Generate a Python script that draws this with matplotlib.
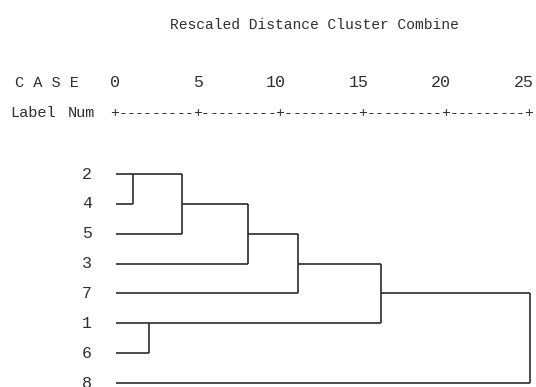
import math
import matplotlib
matplotlib.use("Agg")
import matplotlib.pyplot as plt

# cases in the order they are listed down the dendrogram
case_order = [2, 4, 5, 3, 7, 1, 6, 8]

# agglomeration schedule: cluster joined, cluster absorbed, rescaled distance
join_first = [2, 1, 2, 2, 2, 1, 1]
join_second = [4, 6, 5, 3, 7, 2, 8]
join_dist = [1, 2, 4, 8, 11, 16, 25]

tick_values = [0, 5, 10, 15, 20, 25]

ink = "#2b2b2b"
txt = "#2e2e2e"
mono = ["Liberation Mono", "DejaVu Sans Mono"]

fig = plt.figure(figsize=(5.36, 3.87), dpi=100)
ax = fig.add_axes([0, 0, 1, 1])
ax.set_xlim(-7.005, 25.36)
ax.set_ylim(7.133, -5.827)
ax.axis("off")

# draw the tree, each cluster keeps a row and the distance it last reached
row = {c: i for i, c in enumerate(case_order)}
reach = {c: 0.0 for c in case_order}
for a, b, d in zip(join_first, join_second, join_dist):
    ya, yb = row[a], row[b]
    ax.plot([reach[a], d], [ya, ya], color=ink, lw=1.2, solid_capstyle="butt")
    ax.plot([reach[b], d], [yb, yb], color=ink, lw=1.2, solid_capstyle="butt")
    ax.plot([d, d], [ya, yb], color=ink, lw=1.2, solid_capstyle="butt")
    row[a] = math.floor((ya + yb) / 2)
    reach[a] = d
    del row[b]

# case numbers
for i, c in enumerate(case_order):
    ax.text(-1.45, i, str(c), ha="right", va="center", fontsize=12,
            family=mono, color=txt)

# header
ax.text(12.0, -4.99, "Rescaled Distance Cluster Combine", ha="center",
        va="center", fontsize=10.5, family=mono, color=txt)
ax.text(-4.2, -3.05, "C A S E", ha="center", va="center", fontsize=11,
        family=mono, color=txt)
ax.text(-6.4, -2.04, "Label", ha="left", va="center", fontsize=11,
        family=mono, color=txt)
ax.text(-2.9, -2.04, "Num", ha="left", va="center", fontsize=11,
        family=mono, color=txt)

# ruler made of + and - characters
for t in tick_values:
    ax.text(t + 0.25, -3.05, str(t), ha="right", va="center", fontsize=12,
            family=mono, color=txt)
    ax.text(t - 0.1, -2.04, "+", ha="center", va="center", fontsize=10.5,
            family=mono, color=txt)
for t in tick_values[:-1]:
    for k in range(1, 10):
        ax.text(t + k * 0.5 - 0.1, -2.04, "-", ha="center", va="center",
                fontsize=10.5, family=mono, color=txt)

fig.savefig("out.png", dpi=100, facecolor="white")
